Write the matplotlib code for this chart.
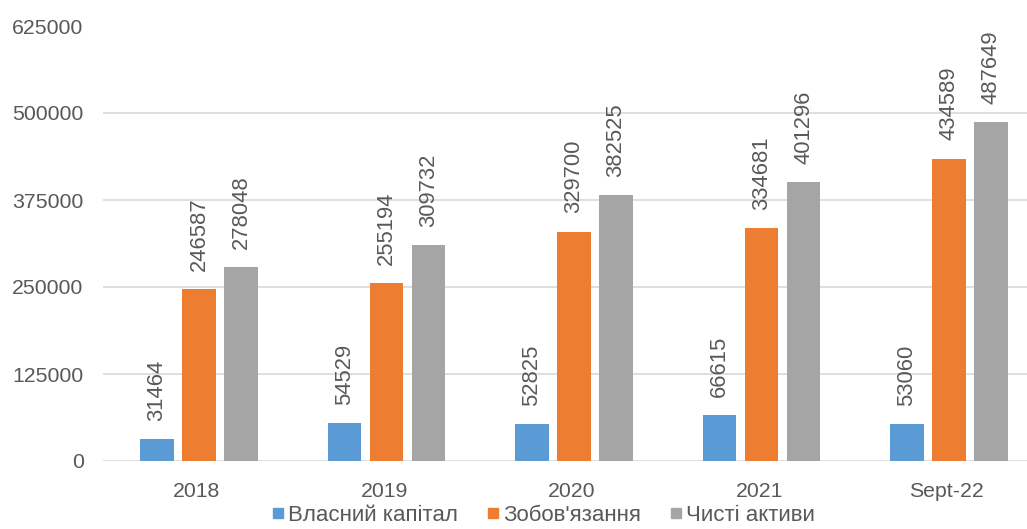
import matplotlib
matplotlib.use("Agg")
import matplotlib.pyplot as plt
from matplotlib.lines import Line2D
import numpy as np

categories = ["2018", "2019", "2020", "2021", "Sept-22"]
series_names = ["Власний капітал", "Зобов'язання", "Чисті активи"]
equity = [31464, 54529, 52825, 66615, 53060]
liabilities = [246587, 255194, 329700, 334681, 434589]
net_assets = [278048, 309732, 382525, 401296, 487649]
yticks = [0, 125000, 250000, 375000, 500000, 625000]

colors = ["#5B9BD5", "#ED7D31", "#A5A5A5"]
text_color = "#595959"

plt.rcParams['font.family'] = ['Liberation Sans', 'DejaVu Sans']
fs = 15.3

fig = plt.figure(figsize=(10.27, 5.29), dpi=100)
ax = fig.add_axes([103/1027, 68/529, (1027-103)/1027, 435/529])

x = np.arange(len(categories))
width = 0.178
offsets = [-0.212, 0.012, 0.236]
for vals, off, c in zip([equity, liabilities, net_assets], offsets, colors):
    bars = ax.bar(x + off, vals, width=width, color=c, zorder=3)
    for b, v in zip(bars, vals):
        ax.annotate(str(v), (b.get_x() + b.get_width()/2, v),
                    xytext=(0, 13), textcoords='offset points',
                    rotation=90, ha='center', va='bottom',
                    fontsize=15.8, color=text_color)

ax.set_xlim(-0.5, -0.5 + 924/187.5)
ax.set_ylim(0, 625000)
ax.set_yticks(yticks)
ax.set_yticklabels([str(t) for t in yticks])
ax.set_xticks(x)
ax.set_xticklabels(categories)
ax.tick_params(axis='both', length=0, labelsize=fs, colors=text_color)
ax.tick_params(axis='y', pad=14)
ax.tick_params(axis='x', pad=15)
ax.grid(axis='y', color='#D9D9D9', linewidth=1.2, zorder=0)
ax.yaxis.get_gridlines()[-1].set_visible(False)
for s in ax.spines.values():
    s.set_visible(False)

handles = [Line2D([], [], marker='s', linestyle='none', markersize=7.5,
                  markerfacecolor=c, markeredgecolor=c) for c in colors]
fig.legend(handles, series_names, loc='lower center', ncol=3,
           bbox_to_anchor=(542/1027, -0.032), frameon=False,
           fontsize=16, labelcolor=text_color, handletextpad=0.05,
           columnspacing=1.2, handlelength=0.8)

fig.savefig("out.png", dpi=100)
